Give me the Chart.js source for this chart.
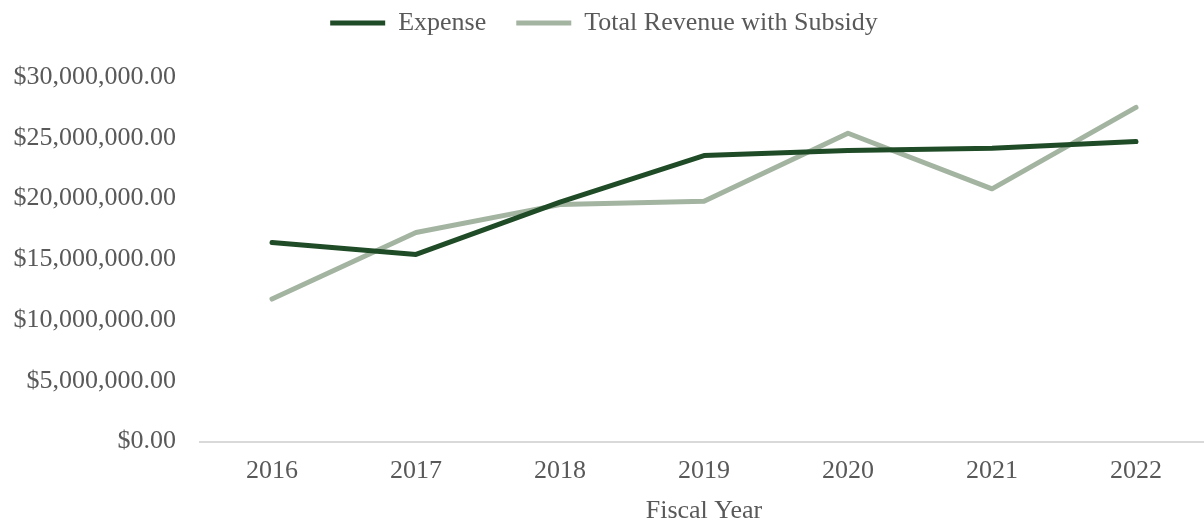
<!DOCTYPE html>
<html>
<head>
<meta charset="utf-8">
<script src="https://cdn.jsdelivr.net/npm/chart.js@4"></script>
<style>
  html, body { margin: 0; padding: 0; background: #fff; overflow: hidden; }
  #wrap { position: relative; width: 1208px; height: 523px; }
</style>
</head>
<body>
<div id="wrap"><canvas id="financeChart"></canvas></div>
<script>
const years = ['2016', '2017', '2018', '2019', '2020', '2021', '2022'];
const expense = [16390000, 15400000, 19700000, 23540000, 23950000, 24140000, 24690000];
const revenueWithSubsidy = [11730000, 17200000, 19500000, 19780000, 25370000, 20800000, 27500000];
const yTicks = [0, 5000000, 10000000, 15000000, 20000000, 25000000, 30000000];

const textColor = '#595959';
const fontFamily = '"Liberation Serif", "Times New Roman", serif';

const money = (v) => '$' + Number(v).toLocaleString('en-US', { minimumFractionDigits: 2, maximumFractionDigits: 2 });

// extra room between the legend and the plot
const legendGap = {
  id: 'legendGap',
  beforeInit(chart) {
    const fit = chart.legend.fit;
    chart.legend.fit = function () {
      fit.bind(chart.legend)();
      this.height += 31;
    };
  }
};

const ctx = document.getElementById('financeChart').getContext('2d');
new Chart(ctx, {
  type: 'line',
  data: {
    labels: years,
    datasets: [
      {
        label: 'Expense',
        data: expense,
        borderColor: '#204b27',
        backgroundColor: '#204b27',
        borderWidth: 5,
        borderCapStyle: 'round',
        borderJoinStyle: 'round',
        pointRadius: 0,
        tension: 0
      },
      {
        label: 'Total Revenue with Subsidy',
        data: revenueWithSubsidy,
        borderColor: '#a3b4a1',
        backgroundColor: '#a3b4a1',
        borderWidth: 5,
        borderCapStyle: 'round',
        borderJoinStyle: 'round',
        pointRadius: 0,
        tension: 0
      }
    ]
  },
  plugins: [legendGap],
  options: {
    responsive: true,
    maintainAspectRatio: false,
    animation: false,
    layout: { padding: { left: 0, right: 0, top: -20, bottom: -4 } },
    plugins: {
      tooltip: { enabled: false },
      legend: {
        position: 'top',
        labels: {
          usePointStyle: true,
          pointStyle: 'line',
          pointStyleWidth: 55,
          boxHeight: 26,
          padding: 30,
          color: textColor,
          font: { family: fontFamily, size: 26 }
        }
      }
    },
    scales: {
      x: {
        offset: true,
        grid: { display: false, drawTicks: false },
        border: { display: true, color: '#d9d9d9', width: 2 },
        ticks: { color: textColor, padding: 14, font: { family: fontFamily, size: 26 } },
        title: {
          display: true,
          text: 'Fiscal Year',
          color: textColor,
          padding: { top: -5, bottom: 0 },
          font: { family: fontFamily, size: 26 }
        }
      },
      y: {
        min: 0,
        max: 30000000,
        afterBuildTicks: (scale) => { scale.ticks = yTicks.map(v => ({ value: v })); },
        afterFit: (scale) => { scale.width = 200; },
        grid: { display: false, drawTicks: false },
        border: { display: false },
        ticks: {
          color: textColor,
          padding: 24,
          font: { family: fontFamily, size: 26 },
          callback: (v) => money(v)
        }
      }
    }
  }
});
</script>
</body>
</html>
